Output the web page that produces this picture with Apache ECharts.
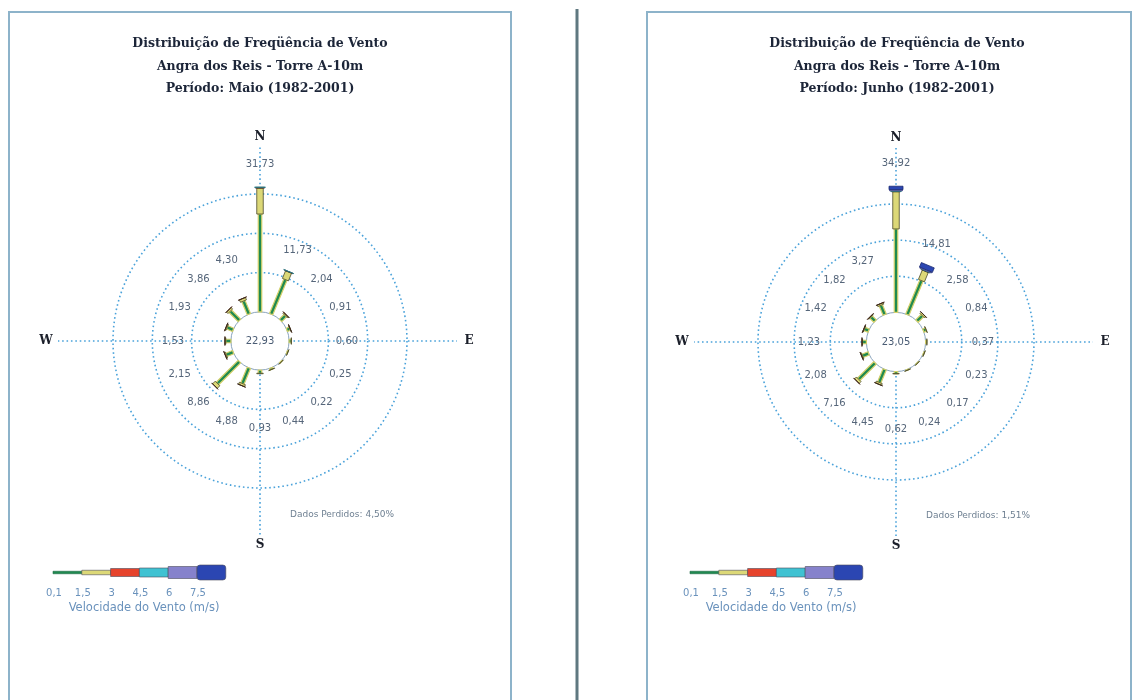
<!DOCTYPE html>
<html>
<head>
<meta charset="utf-8">
<script src="https://cdn.jsdelivr.net/npm/echarts@6/dist/echarts.min.js"></script>
<style>
  html, body { margin: 0; padding: 0; background: #ffffff; }
  #chart { width: 1136px; height: 700px; }
</style>
</head>
<body>
<div id="chart"></div>
<script>
// Wind directions, clockwise from north
const directions = ['N', 'NNE', 'NE', 'ENE', 'E', 'ESE', 'SE', 'SSE', 'S', 'SSW', 'SW', 'WSW', 'W', 'WNW', 'NW', 'NNW'];
// Speed class boundaries (m/s), shown under the legend bar
const speedClassLabels = ['0,1', '1,5', '3', '4,5', '6', '7,5'];

// Maio (1982-2001): frequency (%) per direction and speed class
const maioCalm = 22.93;
const maioMissing = '4,50%';
const maio_0_1 = [24.90, 9.50, 1.70, 0.78, 0.52, 0.22, 0.19, 0.38, 0.80, 4.30, 7.90, 1.85, 1.30, 1.63, 3.30, 3.60];
const maio_1_5 = [6.60, 2.10, 0.32, 0.12, 0.08, 0.03, 0.03, 0.06, 0.13, 0.56, 0.92, 0.28, 0.22, 0.28, 0.52, 0.66];
const maio_3_0 = [0.20, 0.11, 0.02, 0.01, 0, 0, 0, 0, 0, 0.02, 0.04, 0.02, 0.01, 0.02, 0.04, 0.04];
const maio_4_5 = [0.03, 0.02, 0, 0, 0, 0, 0, 0, 0, 0, 0, 0, 0, 0, 0, 0];
const maio_6_0 = [0, 0, 0, 0, 0, 0, 0, 0, 0, 0, 0, 0, 0, 0, 0, 0];
const maio_7_5 = [0, 0, 0, 0, 0, 0, 0, 0, 0, 0, 0, 0, 0, 0, 0, 0];

// Junho (1982-2001)
const junhoCalm = 23.05;
const junhoMissing = '1,51%';
const junho_0_1 = [23.10, 10.20, 2.10, 0.72, 0.32, 0.20, 0.15, 0.21, 0.54, 3.90, 6.40, 1.80, 1.06, 1.22, 1.56, 2.78];
const junho_1_5 = [10.30, 2.80, 0.45, 0.12, 0.05, 0.03, 0.02, 0.03, 0.08, 0.53, 0.72, 0.26, 0.16, 0.19, 0.24, 0.45];
const junho_3_0 = [0.12, 0.10, 0.03, 0, 0, 0, 0, 0, 0, 0.02, 0.04, 0.02, 0.01, 0.01, 0.02, 0.04];
const junho_4_5 = [0.15, 0.12, 0, 0, 0, 0, 0, 0, 0, 0, 0, 0, 0, 0, 0, 0];
const junho_6_0 = [0.30, 0.25, 0, 0, 0, 0, 0, 0, 0, 0, 0, 0, 0, 0, 0, 0];
const junho_7_5 = [0.95, 1.34, 0, 0, 0, 0, 0, 0, 0, 0, 0, 0, 0, 0, 0, 0];

// Ring frequencies (%)
const ringValues = [10, 20, 30];

// Styling
const CLASS_COLORS = ['#1f8a50', '#dcd877', '#e6432c', '#3fc2d2', '#8682cc', '#2b46b2'];
const CLASS_STROKES = ['#d4d06a', '#4a4a28', '#3a2418', '#2a7a88', '#4a4a8a', '#1a2a70'];
const CLASS_WIDTHS = [3.5, 6.5, 9, 11, 13, 14];
const LEGEND_HEIGHTS = [2.5, 4.5, 8, 9, 12, 15];
const GRID_BLUE = '#4aa2da';
const VALUE_FONT = '10px "DejaVu Sans"';
const VALUE_COLOR = '#56667a';

const panels = [
  {
    month: 'Maio', calm: maioCalm, missing: maioMissing,
    classes: [maio_0_1, maio_1_5, maio_3_0, maio_4_5, maio_6_0, maio_7_5],
    center: [260, 341], radius: 147, rMin: -7.4, titleX: 260, legendX: 53
  },
  {
    month: 'Junho', calm: junhoCalm, missing: junhoMissing,
    classes: [junho_0_1, junho_1_5, junho_3_0, junho_4_5, junho_6_0, junho_7_5],
    center: [896, 342], radius: 138, rMin: -8.2, titleX: 897, legendX: 690
  }
];

function fmt(v) { return v.toFixed(2).replace('.', ','); }

function unitVector(api, rMin, ang) {
  const c = api.coord([rMin, ang]);
  const p = api.coord([30, ang]);
  const dx = p[0] - c[0], dy = p[1] - c[1];
  const L = Math.hypot(dx, dy);
  return { c, u: [dx / L, dy / L] };
}

// Concentric rings plus the calm circle with the calm frequency in the middle
function makeRings(panel) {
  return function (params, api) {
    const v = api.value(0);
    const { c } = unitVector(api, panel.rMin, 0);
    const p = api.coord([v, 0]);
    const r = Math.hypot(p[0] - c[0], p[1] - c[1]);
    const children = [];
    if (v === 0) {
      children.push({
        type: 'circle', shape: { cx: c[0], cy: c[1], r },
        style: { fill: '#ffffff', stroke: '#8aa4bc', lineWidth: 1 }
      });
      children.push({
        type: 'text',
        style: { x: c[0], y: c[1], text: fmt(panel.calm), align: 'center', verticalAlign: 'middle',
                 font: VALUE_FONT, fill: '#4a5c74' }
      });
    } else {
      children.push({
        type: 'circle', shape: { cx: c[0], cy: c[1], r },
        style: { fill: 'none', stroke: GRID_BLUE, lineWidth: 1.6, lineDash: [1.6, 2.8] }
      });
    }
    return { type: 'group', children };
  };
}

// Cardinal axes (dotted) with N / E / S / W letters
const cardinalSpecs = { 'N': 204, 'E': 209, 'S': 204, 'W': 214 };
function makeCompass(panel) {
  return function (params, api) {
    const ang = api.value(1);
    const name = ['N', 'E', 'S', 'W'][params.dataIndex];
    const { c, u } = unitVector(api, panel.rMin, ang);
    const a = api.coord([0, ang]);
    const labDist = cardinalSpecs[name];
    const lineLen = labDist - (name === 'N' || name === 'S' ? 10 : 12);
    return {
      type: 'group',
      children: [
        {
          type: 'line',
          shape: { x1: a[0], y1: a[1], x2: c[0] + u[0] * lineLen, y2: c[1] + u[1] * lineLen },
          style: { stroke: GRID_BLUE, lineWidth: 1.6, lineDash: [1.6, 2.8] }
        },
        {
          type: 'text',
          style: { x: c[0] + u[0] * labDist, y: c[1] + u[1] * labDist, text: name,
                   align: 'center', verticalAlign: 'middle',
                   font: 'bold 12px "DejaVu Serif"', fill: '#1b1f2a' }
        }
      ]
    };
  };
}

// Stacked speed-class bars per direction with the total frequency as label
function makeRose(panel) {
  return function (params, api) {
    const i = params.dataIndex;
    const ang = api.value(1);
    const total = api.value(0);
    const { c, u } = unitVector(api, panel.rMin, ang);
    const n = [-u[1], u[0]];
    const children = [];
    let cum = 0;
    for (let k = 0; k < panel.classes.length; k++) {
      const v = panel.classes[k][i];
      if (!(v > 0)) continue;
      const a = api.coord([cum, ang]);
      const b = api.coord([cum + v, ang]);
      cum += v;
      const h = CLASS_WIDTHS[k] / 2;
      children.push({
        type: 'polygon',
        z2: k,
        shape: { points: [
          [a[0] + n[0] * h, a[1] + n[1] * h],
          [b[0] + n[0] * h, b[1] + n[1] * h],
          [b[0] - n[0] * h, b[1] - n[1] * h],
          [a[0] - n[0] * h, a[1] - n[1] * h]
        ] },
        style: { fill: CLASS_COLORS[k], stroke: CLASS_STROKES[k], lineWidth: k === 0 ? 1.2 : 0.8,
                 lineJoin: 'round' }
      });
    }
    const tip = api.coord([total, ang]);
    const tipDist = Math.hypot(tip[0] - c[0], tip[1] - c[1]);
    const d = Math.max(87, tipDist + 23);
    children.push({
      type: 'text',
      style: { x: c[0] + u[0] * d, y: c[1] + u[1] * d, text: fmt(total),
               align: 'center', verticalAlign: 'middle', font: VALUE_FONT, fill: VALUE_COLOR }
    });
    return { type: 'group', children };
  };
}

const series = [];
panels.forEach((panel, pi) => {
  const totals = directions.map((_, i) => panel.classes.reduce((s, arr) => s + arr[i], 0));
  series.push({
    type: 'custom', coordinateSystem: 'polar', polarIndex: pi, silent: true, z: 1,
    renderItem: makeRings(panel),
    data: [[0, 0]].concat(ringValues.map(v => [v, 0]))
  });
  series.push({
    type: 'custom', coordinateSystem: 'polar', polarIndex: pi, silent: true, z: 2,
    renderItem: makeCompass(panel),
    data: [[0, 0], [0, 90], [0, 180], [0, 270]]
  });
  series.push({
    type: 'custom', coordinateSystem: 'polar', polarIndex: pi, silent: true, z: 3,
    renderItem: makeRose(panel),
    data: directions.map((d, i) => ({ name: d, value: [totals[i], i * 22.5] }))
  });
});

// Frames, titles, legend bars and notes
const graphics = [
  { type: 'rect', shape: { x: 9, y: 12, width: 502, height: 700 },
    style: { fill: 'none', stroke: '#8db3ca', lineWidth: 2 } },
  { type: 'rect', shape: { x: 647, y: 12, width: 484, height: 700 },
    style: { fill: 'none', stroke: '#8db3ca', lineWidth: 2 } },
  { type: 'rect', shape: { x: 575.5, y: 9, width: 3, height: 691 },
    style: { fill: '#5f7880' } }
];

panels.forEach(panel => {
  const titleLines = [
    'Distribuição de Freqüência de Vento',
    'Angra dos Reis - Torre A-10m',
    'Período: ' + panel.month + ' (1982-2001)'
  ];
  titleLines.forEach((t, li) => {
    graphics.push({
      type: 'text',
      style: { x: panel.titleX, y: 44 + li * 22.5, text: t, align: 'center', verticalAlign: 'middle',
               font: 'bold 12.5px "DejaVu Serif"', fill: '#1c2538' }
    });
  });
  graphics.push({
    type: 'text',
    style: { x: panel.center[0] + 82, y: panel.center[1] + 174, text: 'Dados Perdidos: ' + panel.missing,
             align: 'center', verticalAlign: 'middle', font: '9px "DejaVu Sans"', fill: '#6f8092' }
  });
  const segW = 28.8;
  for (let k = 0; k < CLASS_COLORS.length; k++) {
    const hgt = LEGEND_HEIGHTS[k];
    graphics.push({
      type: 'rect',
      shape: { x: panel.legendX + k * segW, y: 572.5 - hgt / 2, width: segW, height: hgt, r: k === 5 ? 3 : 0 },
      style: { fill: CLASS_COLORS[k], stroke: k === 0 ? '#1f6a44' : '#4a4a5a', lineWidth: 0.6 }
    });
  }
  speedClassLabels.forEach((lab, k) => {
    graphics.push({
      type: 'text',
      style: { x: panel.legendX + 1 + k * segW, y: 593, text: lab, align: 'center', verticalAlign: 'middle',
               font: '10px "DejaVu Sans"', fill: '#6a92bc' }
    });
  });
  graphics.push({
    type: 'text',
    style: { x: panel.legendX + 91, y: 608, text: 'Velocidade do Vento (m/s)', align: 'center',
             verticalAlign: 'middle', font: '11.5px "DejaVu Sans"', fill: '#6a92bc' }
  });
});

const chart = echarts.init(document.getElementById('chart'));
chart.setOption({
  animation: false,
  backgroundColor: '#ffffff',
  polar: panels.map(p => ({ center: p.center, radius: p.radius })),
  angleAxis: panels.map((p, i) => ({
    polarIndex: i, type: 'value', min: 0, max: 360, startAngle: 90, clockwise: true, show: false
  })),
  radiusAxis: panels.map((p, i) => ({
    polarIndex: i, type: 'value', min: p.rMin, max: 30, show: false
  })),
  graphic: graphics,
  series: series
});
</script>
</body>
</html>
